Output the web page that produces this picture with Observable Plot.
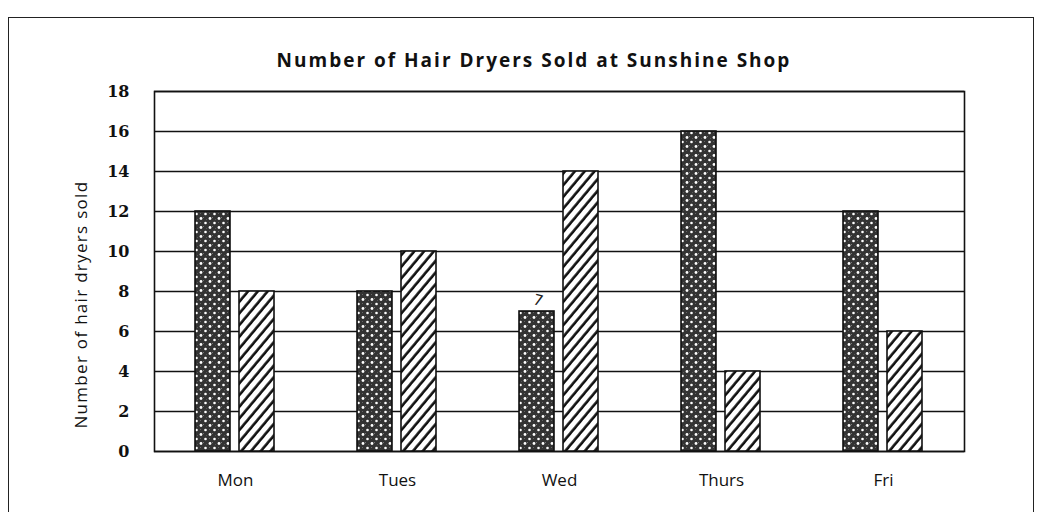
<!DOCTYPE html>
<html><head><meta charset="utf-8">
<script src="https://cdn.jsdelivr.net/npm/d3@7"></script>
<script src="https://cdn.jsdelivr.net/npm/@observablehq/plot@0.6"></script>
<style>
body{margin:0;background:#fff;width:1053px;height:512px;overflow:hidden;position:relative;font-family:"Open Sans",sans-serif}
#border{position:absolute;left:8px;top:17px;width:1024px;height:540px;border:1.5px solid #222}
#title{position:absolute;top:47px;left:0;width:1068px;text-align:center;font:700 19px "Open Sans",sans-serif;letter-spacing:2px;color:#111}
#chart{position:absolute;left:0;top:0}
</style></head><body>
<div id="border"></div>
<div id="title">Number of Hair Dryers Sold at Sunshine Shop</div>
<div id="chart"></div>
<script>
const days = ["Mon", "Tues", "Wed", "Thurs", "Fri"];
const series = ["Dotted", "Hatched"];
const dotted = [12, 8, 7, 16, 12];
const hatched = [8, 10, 14, 4, 6];
const yTicks = [0, 2, 4, 6, 8, 10, 12, 14, 16, 18];
const yLabel = "Number of hair dryers sold";
const annotations = [{day: "Wed", series: "Dotted", value: 7, label: "7"}];

const rows = days.flatMap((d, i) => [
  {day: d, series: series[0], value: dotted[i]},
  {day: d, series: series[1], value: hatched[i]}
]);

const chart = Plot.plot({
  width: 1053, height: 512,
  marginTop: 91, marginBottom: 61, marginLeft: 153, marginRight: 88,
  style: {background: "transparent", overflow: "visible"},
  fx: {domain: days, padding: 0, label: null},
  x: {domain: series, paddingInner: 0.2, paddingOuter: 0.91, axis: null},
  y: {domain: [0, 18], label: null},
  color: {domain: series, range: ["url(#dots)", "url(#hatch)"]},
  marks: [
    Plot.gridY(yTicks, {stroke: "#111", strokeOpacity: 1, strokeWidth: 1.4}),
    Plot.frame({facet: "super", stroke: "#111", strokeWidth: 1.6}),
    Plot.barY(rows, {fx: "day", x: "series", y: "value", fill: "series", stroke: "#111", strokeWidth: 1.6}),
    Plot.axisY(yTicks, {tickSize: 0, tickPadding: 25, fontSize: 16, fontWeight: "bold", fontFamily: "DejaVu Serif", fill: "#111", label: null}),
    Plot.axisFx({anchor: "bottom", tickSize: 0, tickPadding: 22, fontSize: 17, fontFamily: "Open Sans", fill: "#111", label: null}),
    Plot.text([{day: days[0]}], {fx: "day", frameAnchor: "bottom-left", textAnchor: "start", text: () => yLabel, rotate: -90, dx: -68, dy: -23, fontSize: 17, fontFamily: "Open Sans", fill: "#111"}),
    Plot.text(annotations, {fx: "day", x: "series", y: "value", text: "label", dy: -11, dx: 1, rotate: 15, fontSize: 15, fontFamily: "DejaVu Sans", fill: "#222"})
  ]
});

const svg = d3.select(chart);
svg.selectAll("text").filter(function() { return this.textContent === yLabel; }).style("letter-spacing", "1.3px");
const defs = svg.insert("defs", ":first-child");
const dots = defs.append("pattern").attr("id", "dots").attr("patternUnits", "userSpaceOnUse").attr("width", 9).attr("height", 9);
dots.append("rect").attr("width", 9).attr("height", 9).attr("fill", "#333");
dots.append("rect").attr("x", 4).attr("y", 1).attr("width", 1).attr("height", 1).attr("fill", "#777");
dots.append("rect").attr("x", 1).attr("y", 6).attr("width", 1).attr("height", 1).attr("fill", "#666");
dots.append("rect").attr("x", 7).attr("y", 3).attr("width", 1).attr("height", 1).attr("fill", "#555");
dots.append("circle").attr("cx", 2).attr("cy", 2.5).attr("r", 1.4).attr("fill", "#fff");
dots.append("circle").attr("cx", 6.5).attr("cy", 7).attr("r", 1.3).attr("fill", "#fff");
const hatch = defs.append("pattern").attr("id", "hatch").attr("patternUnits", "userSpaceOnUse").attr("width", 7.5).attr("height", 10).attr("patternTransform", "rotate(40)");
hatch.append("rect").attr("width", 7.5).attr("height", 10).attr("fill", "#fff");
hatch.append("line").attr("x1", 1.5).attr("y1", -1).attr("x2", 1.5).attr("y2", 11).attr("stroke", "#111").attr("stroke-width", 2.6);

document.getElementById("chart").appendChild(chart);
</script>
</body></html>
